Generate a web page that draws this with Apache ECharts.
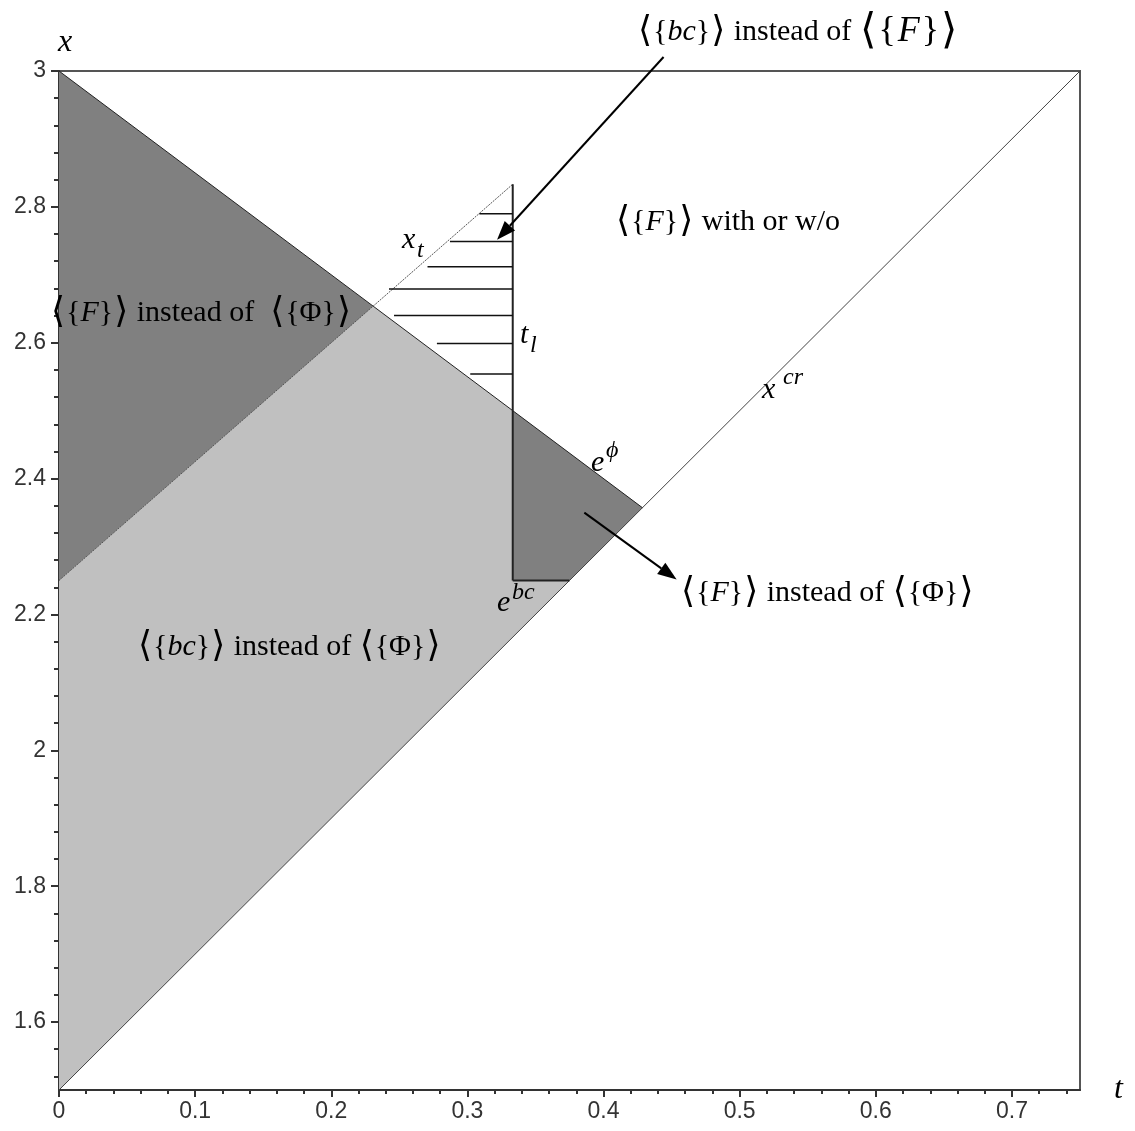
<!DOCTYPE html>
<html>
<head>
<meta charset="utf-8">
<script src="https://cdn.jsdelivr.net/npm/echarts@6/dist/echarts.min.js"></script>
<style>
  html, body { margin: 0; background: #fff; }
  #main { width: 1135px; height: 1131px; }
</style>
</head>
<body>
<div id="main"></div>
<script>
// tick labels
const tTicks = [0, 0.1, 0.2, 0.3, 0.4, 0.5, 0.6, 0.7];
const xTicks = [1.6, 1.8, 2, 2.2, 2.4, 2.6, 2.8, 3];

// boundary lines (t, x)
const crLine = [[0, 1.5], [0.75, 3]];
const phiLine = [[0, 3], [0.4286, 2.3571]];
const xtLine = [[0, 2.25], [0.3333, 2.8333]];
const tlLine = [[0.3333, 2.25], [0.3333, 2.8333]];
const bcLine = [[0.3333, 2.25], [0.375, 2.25]];

// shaded regions
const lightArea = [[0, 2.25], [0.2308, 2.6538], [0.4286, 2.3571], [0, 1.5]];
const darkLeft = [[0, 3], [0.2308, 2.6538], [0, 2.25]];
const darkRight = [[0.3333, 2.5], [0.4286, 2.3571], [0.375, 2.25], [0.3333, 2.25]];

// hatching: start t, x level (all end at t_l)
const hatchStart = [0.3088, 0.2872, 0.2707, 0.2424, 0.2461, 0.2776, 0.3021];
const hatchLevel = [2.790, 2.749, 2.712, 2.679, 2.640, 2.599, 2.554];
const hatchEnd = 0.3333;

// arrows: [from, to]
const arrows = [
  [[0.4441, 3.0206], [0.3218, 2.7515]],
  [[0.3859, 2.35], [0.4537, 2.2515]]
];

var myChart = echarts.init(document.getElementById('main'), null, {
  width: 1135,
  height: 1131,
});

function polygonSeries(points, color) {
  return {
    type: 'custom',
    data: points,
    silent: true,
    renderItem: function (params, api) {
      if (params.dataIndex !== 0) return;
      return {
        type: 'polygon',
        shape: { points: points.map(p => api.coord(p)) },
        style: { fill: color }
      };
    },
    z: 1
  };
}

function lineSeries(data, color, width, type) {
  return {
    type: 'line',
    data: data,
    showSymbol: false,
    silent: true,
    lineStyle: { color: color, width: width, type: type || 'solid' },
    z: 3
  };
}

const serif = 'Liberation Serif';
const rich = {
  ab: { fontFamily: 'DejaVu Sans', fontSize: 36, fill: '#000', verticalAlign: 'middle', padding: [0, 1] },
  it: { fontFamily: serif, fontStyle: 'italic', fontSize: 30, fill: '#000', verticalAlign: 'middle' },
  AB: { fontFamily: 'DejaVu Sans', fontSize: 42, fill: '#000', verticalAlign: 'middle', padding: [0, 2] },
  IT: { fontFamily: serif, fontStyle: 'italic', fontSize: 36, fill: '#000', verticalAlign: 'middle', padding: [0, 2] }
};

function label(x, y, text, size) {
  return {
    type: 'text',
    x: x,
    y: y,
    z: 10,
    style: {
      text: text,
      fontFamily: serif,
      fontSize: size || 30,
      fill: '#000',
      verticalAlign: 'middle',
      rich: rich
    }
  };
}

function mathText(x, y, text, size) {
  return {
    type: 'text',
    x: x,
    y: y,
    z: 10,
    style: {
      text: text,
      fontFamily: serif,
      fontStyle: 'italic',
      fontSize: size,
      fill: '#000',
      verticalAlign: 'bottom'
    }
  };
}

let option = {
  animation: false,
  grid: {
    left: 59,
    top: 71,
    right: 55,
    bottom: 41,
    show: true,
    borderColor: '#555',
    borderWidth: 2,
    backgroundColor: 'transparent'
  },
  xAxis: {
    type: 'value',
    min: 0,
    max: 0.75,
    interval: 0.1,
    name: 't',
    nameLocation: 'end',
    nameGap: 34,
    nameTextStyle: { fontFamily: serif, fontStyle: 'italic', fontSize: 32, color: '#000', padding: [12, 0, 0, 0] },
    axisLine: { show: true, onZero: false, lineStyle: { color: '#333', width: 2 } },
    axisTick: { show: true, length: 7, customValues: tTicks, lineStyle: { color: '#333', width: 2 } },
    minorTick: { show: true, splitNumber: 5, length: 4, lineStyle: { color: '#333', width: 2 } },
    axisLabel: {
      customValues: tTicks,
      margin: 10,
      fontFamily: 'Liberation Sans',
      fontSize: 23,
      color: '#333',
      formatter: v => String(v)
    },
    splitLine: { show: false }
  },
  yAxis: {
    type: 'value',
    min: 1.5,
    max: 3,
    splitNumber: 8,
    name: 'x',
    nameLocation: 'end',
    nameGap: 12,
    nameTextStyle: { fontFamily: serif, fontStyle: 'italic', fontSize: 32, color: '#000', padding: [0, 0, 0, 12] },
    axisLine: { show: true, onZero: false, lineStyle: { color: '#333', width: 2 } },
    axisTick: { show: true, length: 8, customValues: xTicks, lineStyle: { color: '#333', width: 2 } },
    minorTick: { show: true, splitNumber: 5, length: 5, lineStyle: { color: '#333', width: 2 } },
    axisLabel: {
      customValues: xTicks,
      margin: 13,
      fontFamily: 'Liberation Sans',
      fontSize: 23,
      color: '#333',
      formatter: v => String(v)
    },
    splitLine: { show: false }
  },
  series: [
    polygonSeries(lightArea, '#c0c0c0'),
    polygonSeries(darkLeft, '#808080'),
    polygonSeries(darkRight, '#808080'),
    lineSeries(crLine, '#444', 1),
    lineSeries(phiLine, '#222', 1),
    lineSeries(xtLine, '#555', 1, [2, 1]),
    lineSeries(tlLine, '#222', 2),
    lineSeries(bcLine, '#222', 2),
    {
      type: 'custom',
      silent: true,
      data: hatchLevel.map((x, i) => [hatchStart[i], x]),
      renderItem: function (params, api) {
        const a = api.coord([api.value(0), api.value(1)]);
        const b = api.coord([hatchEnd, api.value(1)]);
        return {
          type: 'line',
          shape: { x1: a[0], y1: a[1], x2: b[0], y2: b[1] },
          style: { stroke: '#111', lineWidth: 1.5 }
        };
      },
      z: 4
    },
    {
      type: 'custom',
      silent: true,
      clip: false,
      data: arrows.map(a => [a[0][0], a[0][1], a[1][0], a[1][1]]),
      renderItem: function (params, api) {
        const p = api.coord([api.value(0), api.value(1)]);
        const q = api.coord([api.value(2), api.value(3)]);
        const dx = q[0] - p[0], dy = q[1] - p[1];
        const len = Math.sqrt(dx * dx + dy * dy);
        const ux = dx / len, uy = dy / len;
        const hl = 19, hw = 7;
        const bx = q[0] - ux * hl, by = q[1] - uy * hl;
        return {
          type: 'group',
          children: [
            {
              type: 'line',
              shape: { x1: p[0], y1: p[1], x2: bx, y2: by },
              style: { stroke: '#000', lineWidth: 2 }
            },
            {
              type: 'polygon',
              shape: { points: [q, [bx - uy * hw, by + ux * hw], [bx + uy * hw, by - ux * hw]] },
              style: { fill: '#000' }
            }
          ]
        };
      },
      z: 6
    }
  ],
  graphic: [
    label(637, 32, '{ab|⟨}{{it|bc}}{ab|⟩} instead of'),
    label(858, 32, '{AB|⟨}{{IT|F}}{AB|⟩}', 36),
    label(615, 222, '{ab|⟨}{{it|F}}{ab|⟩} with or w/o'),
    label(50, 313, '{ab|⟨}{{it|F}}{ab|⟩} instead of  {ab|⟨}{Φ}{ab|⟩}'),
    label(137, 647, '{ab|⟨}{{it|bc}}{ab|⟩} instead of {ab|⟨}{Φ}{ab|⟩}'),
    label(680, 593, '{ab|⟨}{{it|F}}{ab|⟩} instead of {ab|⟨}{Φ}{ab|⟩}'),
    mathText(402, 255, 'x', 30),
    mathText(417, 263, 't', 24),
    mathText(520, 350, 't', 30),
    mathText(530, 358, 'l', 24),
    mathText(591, 478, 'e', 30),
    mathText(606, 463, 'ϕ', 24),
    mathText(762, 405, 'x', 30),
    mathText(783, 390, 'cr', 24),
    mathText(497, 618, 'e', 30),
    mathText(512, 605, 'bc', 24)
  ]
};

myChart.setOption(option);
</script>
</body>
</html>
